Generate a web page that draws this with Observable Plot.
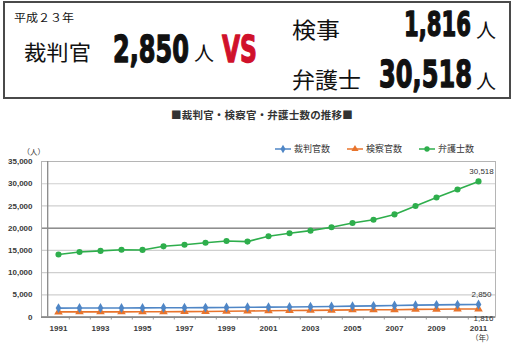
<!DOCTYPE html>
<html>
<head>
<meta charset="utf-8">
<script src="https://cdn.jsdelivr.net/npm/d3@7"></script>
<script src="https://cdn.jsdelivr.net/npm/@observablehq/plot@0.6"></script>
<style>
  html, body { margin: 0; padding: 0; background: #fff; }
  body { width: 513px; height: 353px; position: relative; overflow: hidden; font-family: "Noto Sans CJK JP", "Liberation Sans", sans-serif; }
  #hdr { position: absolute; left: 0; top: 0; }
  #title { position: absolute; left: 0; width: 524px; top: 107px; text-align: center; font-size: 10.5px; font-weight: bold; color: #333; letter-spacing: 0.2px; }
  #legend { position: absolute; left: 275px; top: 142px; display: flex; font-size: 9px; color: #333; }
  #legend .item { display: flex; align-items: center; width: 72px; }
  #legend svg { margin-right: 3px; }
  #chart { position: absolute; left: 0; top: 140px; }
</style>
</head>
<body>
<div id="hdr"></div>
<div id="title"></div>
<div id="legend"></div>
<div id="chart"></div>
<script>
// ---- data ----
const years = [1991,1992,1993,1994,1995,1996,1997,1998,1999,2000,2001,2002,2003,2004,2005,2006,2007,2008,2009,2010,2011];
const judges = [2022,2036,2046,2058,2073,2093,2113,2133,2153,2213,2243,2288,2333,2385,2460,2535,2610,2685,2760,2805,2850];
const prosecutors = [1172,1173,1174,1179,1189,1206,1231,1256,1301,1363,1443,1484,1521,1563,1627,1648,1667,1739,1779,1806,1816];
const lawyers = [14080,14650,14890,15150,15110,15920,16280,16730,17120,16980,18200,18850,19450,20200,21150,21900,23100,25000,26900,28700,30518];
const seriesNames = ["裁判官数","検察官数","弁護士数"];
const seriesColors = ["#4f86c6","#e8742c","#2eae4c"];
const seriesSymbols = ["diamond","triangle","circle"];
const yTicks = [0,5000,10000,15000,20000,25000,30000,35000];
const xTickYears = [1991,1993,1995,1997,1999,2001,2003,2005,2007,2009,2011];
const chartTitle = "■裁判官・検察官・弁護士数の推移■";
const yUnit = "（人）";
const xUnit = "（年）";
const headerYear = "平成２３年";
const headerLabels = ["裁判官","検事","弁護士"];
const personUnit = "人";
const vsText = "VS";

const fmt = d3.format(",");
const seriesValues = [judges, prosecutors, lawyers];
const rows = [];
seriesNames.forEach((s, i) => years.forEach((y, j) => rows.push({series: s, year: y, value: seriesValues[i][j]})));

// ---- header box ----
const H = d3.select("#hdr").append("svg").attr("width", 513).attr("height", 104);
H.append("rect").attr("x", 4).attr("y", 2).attr("width", 506).attr("height", 96)
  .attr("fill", "none").attr("stroke", "#4a4a4a").attr("stroke-width", 2);
const cjk = "'Noto Sans CJK JP', sans-serif";
const num = "'DejaVu Sans', 'Liberation Sans', sans-serif";
function txt(s, x, y, size, opts = {}) {
  const t = H.append("text").attr("x", x).attr("y", y).attr("font-size", size)
    .attr("font-family", cjk).attr("fill", "#111").attr("dominant-baseline", "central").text(s);
  if (opts.len) t.attr("textLength", opts.len).attr("lengthAdjust", "spacingAndGlyphs");
  return t;
}
// heavy condensed figures: natural text squeezed horizontally to the given width
function big(s, x, baseline, size, width, fill = "#111") {
  const t = H.append("text").attr("x", 0).attr("y", 0).attr("font-size", size)
    .attr("font-family", num).attr("font-weight", "bold").attr("fill", fill)
    .attr("stroke", fill).attr("stroke-width", 1.4).attr("stroke-linejoin", "round").text(s);
  const w = t.node().getComputedTextLength() || width;
  t.attr("transform", `translate(${x},${baseline}) scale(${width / w},1)`);
  return t;
}
txt(headerYear, 14, 17, 11, {len: 60});
txt(headerLabels[0], 24, 51, 21, {len: 67});
big(fmt(judges[judges.length - 1]), 113, 62, 38, 76);
txt(personUnit, 194, 52, 20);
big(vsText, 222, 62, 37, 35, "#d0112b");
txt(headerLabels[1], 292, 28, 22, {len: 48});
big(fmt(prosecutors[prosecutors.length - 1]), 404, 36, 33, 67);
txt(personUnit, 476, 29, 20);
txt(headerLabels[2], 292, 78, 22, {len: 69});
big(fmt(lawyers[lawyers.length - 1]), 379, 87, 37, 93);
txt(personUnit, 476, 80, 20);

// ---- title ----
document.getElementById("title").textContent = chartTitle;

// ---- legend ----
const leg = d3.select("#legend");
seriesNames.forEach((s, i) => {
  const it = leg.append("div").attr("class", "item");
  const sv = it.append("svg").attr("width", 16).attr("height", 10);
  sv.append("line").attr("x1", 0).attr("x2", 16).attr("y1", 5).attr("y2", 5)
    .attr("stroke", seriesColors[i]).attr("stroke-width", 1.5);
  const sym = {diamond: d3.symbolDiamond, triangle: d3.symbolTriangle, circle: d3.symbolCircle}[seriesSymbols[i]];
  sv.append("path").attr("transform", "translate(8,5)").attr("d", d3.symbol(sym, 22)())
    .attr("fill", seriesColors[i]);
  it.append("span").text(s);
});

// ---- chart ----
const W = 513, HH = 213, mL = 41, mR = 18, mT = 21, mB = 36.4;
const halfStep = (W - mL - mR) / years.length / 2;
const last = years[years.length - 1];
const font = "'Liberation Sans', Arial, sans-serif";
const plot = Plot.plot({
  width: W, height: HH,
  marginLeft: mL, marginRight: mR, marginTop: mT, marginBottom: mB,
  style: {fontFamily: font, fontSize: "8px", color: "#333", background: "transparent", overflow: "visible"},
  x: {type: "point", domain: years, padding: 0.5, axis: null, label: null},
  y: {domain: [0, 35000], axis: null, label: null},
  color: {domain: seriesNames, range: seriesColors},
  symbol: {domain: seriesNames, range: seriesSymbols},
  marks: [
    Plot.ruleY(yTicks, {stroke: "#cfcfcf", strokeWidth: 1.2}),
    Plot.ruleY([20000], {stroke: "#6a6a6a", strokeWidth: 1}),
    Plot.frame({stroke: "#b5b5b5"}),
    Plot.ruleX([years[0]], {dx: -halfStep, stroke: "#8a8a8a", strokeWidth: 1.3}),
    Plot.ruleX(years.slice(0, -1), {dx: halfStep, y1: 0, y2: -650, stroke: "#999"}),
    Plot.ruleY([0], {stroke: "#8a8a8a", strokeWidth: 1.6}),
    Plot.axisY({ticks: yTicks, tickSize: 0, tickPadding: 9, tickFormat: fmt, label: null, fontWeight: "bold", fill: "#3a3a3a"}),
    Plot.axisX({ticks: xTickYears, tickSize: 0, tickPadding: 8, tickFormat: d => String(d), label: null, fontWeight: "bold", fill: "#3a3a3a"}),
    Plot.text([yUnit], {frameAnchor: "top-left", dx: -19, dy: -12, fontFamily: cjk, fontSize: 7.5, fill: "#333"}),
    Plot.text([xUnit], {frameAnchor: "bottom-right", dx: -2, dy: 24, fontFamily: cjk, fontSize: 7.5, fill: "#333"}),
    Plot.line(rows, {x: "year", y: "value", z: "series", stroke: "series", strokeWidth: 1.6}),
    Plot.dot(rows, {x: "year", y: "value", symbol: "series", fill: "series", r: d => d.series === seriesNames[1] ? 3.3 : d.series === seriesNames[0] ? 2.9 : 3}),
    Plot.text(rows.filter(d => d.year === last && d.series !== seriesNames[1]), {x: "year", y: "value", text: d => fmt(d.value), dy: -10, dx: 3, fontSize: 8, fill: "#333"}),
    Plot.text(rows.filter(d => d.year === last && d.series === seriesNames[1]), {x: "year", y: "value", text: d => fmt(d.value), dy: 9, dx: 5, fontSize: 8, fill: "#333"})
  ]
});
document.getElementById("chart").appendChild(plot);
</script>
</body>
</html>
